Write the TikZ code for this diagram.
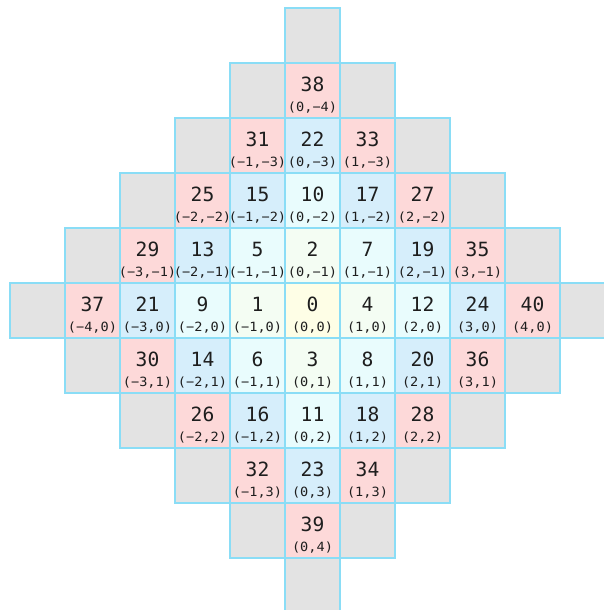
\documentclass[tikz,border=0pt]{standalone}
\usepackage{fontspec}
\setmonofont{DejaVu Sans Mono}
\newfontfamily\lblfont{DejaVu Sans Mono}[FakeStretch=1.07]
\definecolor{c0}{HTML}{FEFEE6}
\definecolor{c1}{HTML}{F4FDF3}
\definecolor{c2}{HTML}{E9FCFD}
\definecolor{c3}{HTML}{D6EEFB}
\definecolor{c4}{HTML}{FDD9D9}
\definecolor{c5}{HTML}{E3E3E3}
\definecolor{cellline}{HTML}{8ADDF6}
\definecolor{txt}{HTML}{1E1E1E}
\newcommand{\crd}[1]{\ifnum#1<0 −\number-#1\relax\else#1\fi}
\begin{document}
\begin{tikzpicture}[x=1pt,y=-1pt,
  cellbox/.style={draw=cellline, line width=1.2pt, minimum size=55pt, inner sep=0pt, outer sep=0pt},
  numtext/.style={font=\ttfamily\fontsize{19.6}{21}\selectfont, text=txt, anchor=base, inner sep=0pt},
  crdtext/.style={font=\lblfont\fontsize{12.7}{14}\selectfont, text=txt, anchor=base, inner sep=0pt}]
\useasboundingbox (0,0) rectangle (604,610);
% gray outer ring
\foreach \i/\j [count=\k] in {0/-5,-1/-4,1/-4,-2/-3,2/-3,-3/-2,3/-2,-4/-1,4/-1,-5/0,5/0,-4/1,4/1,-3/2,3/2,-2/3,2/3,-1/4,1/4,0/5}
  \node[cellbox, fill=c5] (g\k) at ({312.5+55*\i},{310.5+55*\j}) {};
% numbered cells
\foreach \i/\j/\n in {0/-4/38,
  -1/-3/31, 0/-3/22, 1/-3/33,
  -2/-2/25, -1/-2/15, 0/-2/10, 1/-2/17, 2/-2/27,
  -3/-1/29, -2/-1/13, -1/-1/5, 0/-1/2, 1/-1/7, 2/-1/19, 3/-1/35,
  -4/0/37, -3/0/21, -2/0/9, -1/0/1, 0/0/0, 1/0/4, 2/0/12, 3/0/24, 4/0/40,
  -3/1/30, -2/1/14, -1/1/6, 0/1/3, 1/1/8, 2/1/20, 3/1/36,
  -2/2/26, -1/2/16, 0/2/11, 1/2/18, 2/2/28,
  -1/3/32, 0/3/23, 1/3/34,
  0/4/39}{
  \pgfmathtruncatemacro\d{abs(\i)+abs(\j)}
  \node[cellbox, fill=c\d] (n\n) at ({312.5+55*\i},{310.5+55*\j}) {};
  \node[numtext] (t\n) at ({312.5+55*\i},{283+55*\j+28.3}) {\n};
  \node[crdtext] (p\n) at ({312.5+55*\i},{283+55*\j+48.8}) {(\crd{\i},\crd{\j})};
}
\end{tikzpicture}
\end{document}
